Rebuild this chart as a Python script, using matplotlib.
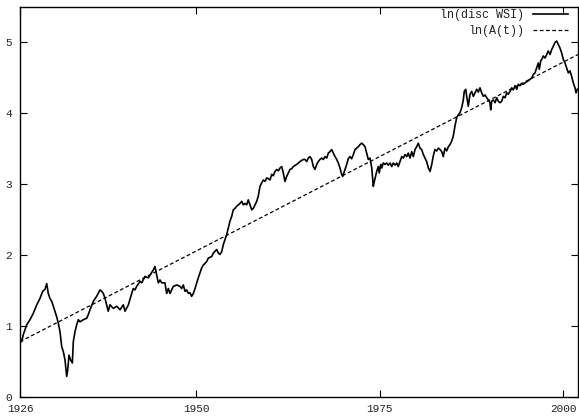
import matplotlib
matplotlib.use("Agg")
import matplotlib.pyplot as plt

# Log of the discounted Wilshire stock index, sampled through time
wsi_years = [
    1926.00, 1926.23, 1926.45, 1926.92, 1927.36, 1927.81, 1928.28, 1928.72, 1929.09, 1929.41,
    1929.64, 1929.85, 1930.08, 1930.31, 1930.54, 1931.00, 1931.22, 1931.45, 1931.68, 1931.90,
    1932.13, 1932.36, 1932.50, 1932.67, 1932.90, 1933.13, 1933.26, 1933.49, 1933.72, 1933.94,
    1934.17, 1934.62, 1935.08, 1935.30, 1935.53, 1935.99, 1936.44, 1936.90, 1937.13, 1937.35,
    1937.58, 1938.02, 1938.26, 1938.71, 1939.17, 1939.62, 1940.07, 1940.30, 1940.76, 1941.21,
    1941.43, 1941.66, 1941.89, 1942.35, 1942.58, 1943.02, 1943.48, 1943.71, 1944.15, 1944.38,
    1944.62, 1944.84, 1945.07, 1945.30, 1945.74, 1945.98, 1946.20, 1946.43, 1946.88, 1947.35,
    1947.79, 1948.02, 1948.24, 1948.48, 1948.71, 1948.92, 1949.15, 1949.38, 1949.61, 1949.84,
    1950.07, 1950.28, 1950.51, 1950.74, 1950.97, 1951.43, 1951.65, 1952.11, 1952.33, 1952.79,
    1953.01, 1953.24, 1953.48, 1953.69, 1953.92, 1954.15, 1954.37, 1954.60, 1954.84, 1955.05,
    1955.28, 1955.51, 1955.73, 1955.96, 1956.20, 1956.42, 1956.65, 1956.88, 1957.09, 1957.33,
    1957.56, 1957.78, 1958.24, 1958.45, 1958.69, 1958.92, 1959.14, 1959.37, 1959.60, 1959.82,
    1960.05, 1960.28, 1960.50, 1960.73, 1960.96, 1961.19, 1961.42, 1961.65, 1961.86, 1962.09,
    1962.32, 1962.55, 1962.78, 1963.01, 1963.22, 1963.69, 1964.14, 1964.58, 1964.81, 1965.05,
    1965.27, 1965.50, 1965.73, 1965.95, 1966.17, 1966.41, 1966.63, 1966.86, 1967.09, 1967.31,
    1967.55, 1967.78, 1967.99, 1968.22, 1968.45, 1968.67, 1968.91, 1969.14, 1969.35, 1969.58,
    1969.81, 1969.95, 1970.27, 1970.50, 1970.71, 1970.94, 1971.17, 1971.40, 1971.63, 1971.86,
    1972.08, 1972.31, 1972.54, 1972.76, 1972.99, 1973.22, 1973.44, 1973.67, 1973.91, 1974.12,
    1974.26, 1974.58, 1974.80, 1974.93, 1975.13, 1975.27, 1975.48, 1975.71, 1975.94, 1976.16,
    1976.40, 1976.63, 1976.85, 1977.08, 1977.31, 1977.52, 1977.76, 1977.99, 1978.21, 1978.44,
    1978.67, 1978.88, 1979.12, 1979.35, 1979.57, 1979.80, 1980.03, 1980.25, 1980.48, 1980.71,
    1980.93, 1981.16, 1981.39, 1981.62, 1981.85, 1982.08, 1982.29, 1982.52, 1982.75, 1982.98,
    1983.21, 1983.44, 1983.65, 1983.88, 1984.11, 1984.34, 1984.57, 1984.80, 1985.01, 1985.24,
    1985.48, 1985.70, 1985.93, 1986.16, 1986.38, 1986.51, 1986.71, 1986.84, 1987.06, 1987.29,
    1987.52, 1987.74, 1987.98, 1988.21, 1988.42, 1988.65, 1988.88, 1989.10, 1989.34, 1989.57,
    1989.78, 1990.01, 1990.11, 1990.24, 1990.47, 1990.70, 1990.93, 1991.15, 1991.37, 1991.60,
    1991.83, 1992.06, 1992.29, 1992.51, 1992.74, 1992.98, 1993.19, 1993.42, 1993.65, 1993.87,
    1994.10, 1994.34, 1994.55, 1994.78, 1995.23, 1995.70, 1995.92, 1996.14, 1996.37, 1996.59,
    1996.73, 1996.92, 1997.06, 1997.28, 1997.51, 1997.74, 1997.95, 1998.19, 1998.42, 1998.64,
    1998.87, 1999.10, 1999.32, 1999.55, 1999.78, 2000.00, 2000.23, 2000.46, 2000.68, 2000.91,
    2001.14, 2001.36, 2001.59, 2001.73, 2001.91,
]
wsi_log = [
    0.83, 0.78, 0.88, 1.02, 1.09, 1.18, 1.30, 1.39, 1.49, 1.52,
    1.60, 1.46, 1.39, 1.35, 1.28, 1.13, 1.04, 0.92, 0.71, 0.64,
    0.52, 0.29, 0.38, 0.59, 0.52, 0.48, 0.78, 0.92, 1.02, 1.09,
    1.06, 1.09, 1.11, 1.16, 1.23, 1.35, 1.42, 1.51, 1.49, 1.46,
    1.39, 1.21, 1.30, 1.25, 1.28, 1.23, 1.30, 1.21, 1.30, 1.46,
    1.53, 1.51, 1.56, 1.63, 1.61, 1.70, 1.68, 1.72, 1.79, 1.84,
    1.72, 1.61, 1.65, 1.61, 1.61, 1.46, 1.53, 1.46, 1.56, 1.58,
    1.56, 1.53, 1.58, 1.49, 1.51, 1.46, 1.47, 1.42, 1.46, 1.53,
    1.61, 1.68, 1.75, 1.82, 1.86, 1.91, 1.96, 1.98, 2.03, 2.08,
    2.03, 2.01, 2.05, 2.15, 2.22, 2.29, 2.38, 2.48, 2.55, 2.64,
    2.66, 2.69, 2.71, 2.73, 2.76, 2.71, 2.73, 2.71, 2.78, 2.71,
    2.64, 2.66, 2.76, 2.83, 2.97, 3.02, 3.06, 3.04, 3.09, 3.08,
    3.06, 3.14, 3.12, 3.18, 3.21, 3.19, 3.23, 3.25, 3.16, 3.04,
    3.11, 3.16, 3.21, 3.22, 3.25, 3.28, 3.32, 3.35, 3.35, 3.32,
    3.37, 3.39, 3.35, 3.25, 3.21, 3.28, 3.32, 3.35, 3.37, 3.35,
    3.39, 3.37, 3.44, 3.46, 3.49, 3.44, 3.39, 3.35, 3.30, 3.23,
    3.14, 3.11, 3.21, 3.28, 3.36, 3.39, 3.36, 3.42, 3.49, 3.51,
    3.53, 3.56, 3.58, 3.56, 3.53, 3.44, 3.35, 3.37, 3.23, 2.97,
    3.04, 3.18, 3.25, 3.16, 3.28, 3.23, 3.30, 3.28, 3.30, 3.27,
    3.30, 3.25, 3.30, 3.27, 3.30, 3.25, 3.32, 3.39, 3.37, 3.42,
    3.39, 3.44, 3.37, 3.46, 3.39, 3.49, 3.53, 3.58, 3.51, 3.49,
    3.42, 3.37, 3.32, 3.23, 3.18, 3.28, 3.40, 3.49, 3.47, 3.51,
    3.49, 3.46, 3.39, 3.51, 3.47, 3.53, 3.56, 3.61, 3.68, 3.82,
    3.94, 3.98, 4.01, 4.08, 4.19, 4.31, 4.34, 4.24, 4.10, 4.27,
    4.31, 4.24, 4.29, 4.34, 4.30, 4.36, 4.29, 4.24, 4.26, 4.22,
    4.19, 4.15, 4.05, 4.17, 4.19, 4.15, 4.22, 4.17, 4.15, 4.17,
    4.24, 4.22, 4.29, 4.27, 4.31, 4.36, 4.33, 4.39, 4.34, 4.41,
    4.39, 4.42, 4.41, 4.43, 4.46, 4.50, 4.55, 4.57, 4.64, 4.71,
    4.62, 4.74, 4.76, 4.81, 4.78, 4.83, 4.88, 4.83, 4.90, 4.95,
    5.00, 5.02, 4.97, 4.92, 4.85, 4.76, 4.71, 4.64, 4.57, 4.60,
    4.52, 4.43, 4.36, 4.29, 4.34,
]

# Log-linear trend A(t)
trend_years = [1926.0, 2002.0]
trend_log = [0.78, 4.83]

x_ticks = [1926, 1950, 1975, 2000]
y_ticks = [0, 1, 2, 3, 4, 5]

mono = "Liberation Mono"
fig = plt.figure(figsize=(5.79, 4.19), dpi=100)
ax = fig.add_axes([20 / 579, 22 / 419, 558 / 579, 390 / 419])

ax.plot(wsi_years, wsi_log, color="black", lw=1.2, label="ln(disc WSI)")
ax.plot(trend_years, trend_log, color="black", lw=0.9, dashes=(3, 2), label="ln(A(t))")

ax.set_xlim(1926, 2002)
ax.set_ylim(0, 5.5)
ax.set_xticks(x_ticks)
ax.set_yticks(y_ticks)
ax.tick_params(direction="in", length=5, width=0.8, top=True, right=True,
               colors="black", labelcolor="#222222", labelsize=8)
ax.tick_params(axis="x", pad=5.2)
ax.tick_params(axis="y", pad=5.8)
for lab in ax.get_xticklabels() + ax.get_yticklabels():
    lab.set_family(mono)
for s in ax.spines.values():
    s.set_linewidth(1.0)

leg = ax.legend(loc="upper right", frameon=False, markerfirst=False,
                prop={"family": mono, "size": 8.5}, handlelength=3.0,
                handletextpad=0.7, labelspacing=0.35, borderaxespad=0.0,
                borderpad=0.0, bbox_to_anchor=(548 / 558, 1 - 2 / 390))
for t in leg.get_texts():
    t.set_color("#222222")

fig.savefig("out.png", dpi=100)
